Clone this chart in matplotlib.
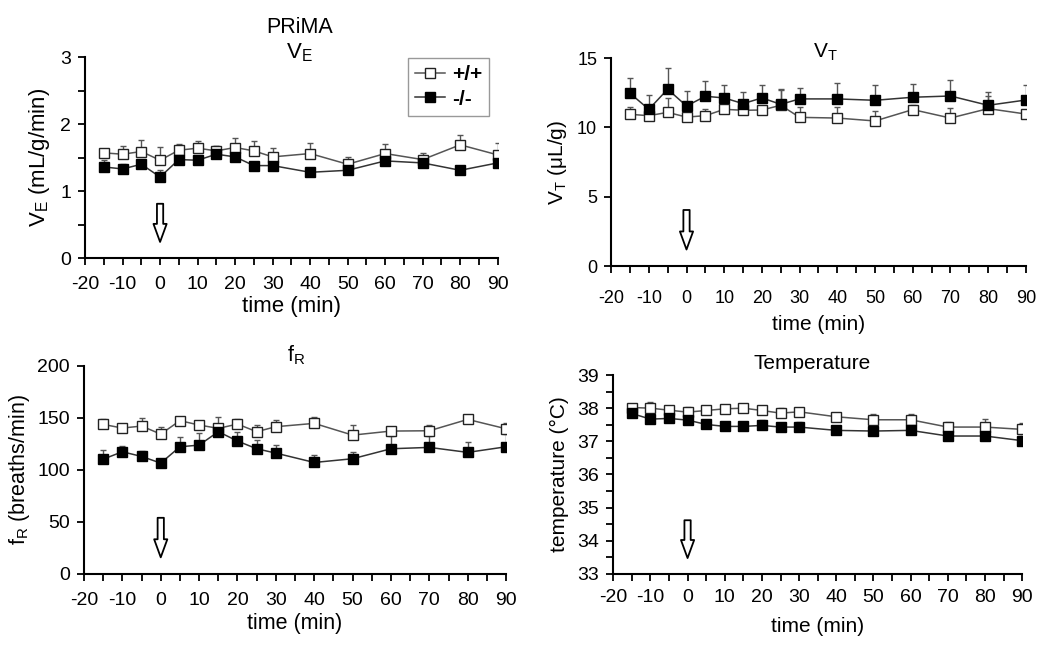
import matplotlib
matplotlib.use("Agg")
import matplotlib.pyplot as plt
import numpy as np

plt.rcParams['font.family'] = ['Liberation Sans', 'DejaVu Sans']
plt.rcParams['mathtext.fontset'] = 'custom'
plt.rcParams['mathtext.rm'] = 'Liberation Sans'
plt.rcParams['axes.unicode_minus'] = False

# ---------------- data ----------------
time = [-15, -10, -5, 0, 5, 10, 15, 20, 25, 30, 40, 50, 60, 70, 80, 90]

ve_wt = [1.57, 1.55, 1.59, 1.46, 1.61, 1.64, 1.60, 1.65, 1.60, 1.51, 1.56, 1.40, 1.56, 1.47, 1.69, 1.54]
ve_wt_err = [0.05, 0.13, 0.17, 0.20, 0.09, 0.11, 0.08, 0.14, 0.14, 0.13, 0.16, 0.11, 0.14, 0.10, 0.14, 0.17]
ve_ko = [1.36, 1.33, 1.40, 1.21, 1.47, 1.46, 1.55, 1.51, 1.38, 1.38, 1.28, 1.31, 1.45, 1.42, 1.31, 1.42]
ve_ko_err = [0.10, 0.07, 0.05, 0.11, 0.05, 0.05, 0.13, 0.06, 0.05, 0.05, 0.05, 0.05, 0.05, 0.05, 0.04, 0.05]

vt_wt = [10.95, 10.85, 11.09, 10.75, 10.85, 11.31, 11.24, 11.26, 11.60, 10.73, 10.68, 10.47, 11.29, 10.68, 11.36, 10.97]
vt_wt_err = [0.55, 0.30, 1.04, 0.40, 0.50, 0.30, 0.25, 0.25, 1.20, 0.77, 0.82, 0.70, 0.30, 0.75, 0.90, 0.30]
vt_ko = [12.47, 11.31, 12.76, 11.55, 12.25, 12.13, 11.72, 12.13, 11.67, 12.06, 12.06, 11.96, 12.18, 12.27, 11.60, 11.98]
vt_ko_err = [1.10, 1.00, 1.50, 1.06, 1.08, 0.96, 0.82, 0.92, 1.00, 0.77, 1.15, 1.13, 0.94, 1.14, 0.94, 1.07]

fr_wt = [143.8, 140.3, 142.2, 134.5, 147.4, 143.2, 140.0, 144.1, 136.8, 141.6, 144.8, 133.5, 137.4, 137.7, 148.6, 139.6]
fr_wt_err = [5.0, 3.0, 8.0, 7.0, 3.0, 3.0, 3.0, 5.0, 6.0, 6.7, 5.8, 9.3, 3.0, 5.5, 3.0, 5.8]
fr_ko = [110.4, 117.5, 113.0, 106.6, 122.3, 123.9, 136.8, 127.8, 120.4, 116.2, 107.2, 110.8, 120.4, 121.7, 116.9, 122.3]
fr_ko_err = [8.9, 5.8, 5.5, 3.0, 9.0, 11.2, 14.0, 9.0, 8.0, 8.0, 7.0, 6.0, 12.0, 10.6, 9.6, 12.0]

tp_wt = [38.02, 38.00, 37.94, 37.88, 37.93, 37.98, 38.00, 37.93, 37.85, 37.89, 37.74, 37.65, 37.65, 37.43, 37.43, 37.36]
tp_wt_err = [0.06, 0.20, 0.05, 0.16, 0.05, 0.04, 0.14, 0.05, 0.14, 0.10, 0.05, 0.17, 0.17, 0.16, 0.23, 0.19]
tp_ko = [37.84, 37.67, 37.69, 37.64, 37.51, 37.45, 37.45, 37.48, 37.43, 37.43, 37.33, 37.31, 37.33, 37.16, 37.16, 37.02]
tp_ko_err = [0.06, 0.05, 0.05, 0.06, 0.05, 0.05, 0.05, 0.16, 0.05, 0.16, 0.10, 0.15, 0.13, 0.05, 0.05, 0.20]

xticks = [-20, -10, 0, 10, 20, 30, 40, 50, 60, 70, 80, 90]
series_labels = ['+/+', '-/-']

LINE_C = '#555555'

fig = plt.figure(figsize=(10.5, 6.46), dpi=100)


def panel(rect, wt, wt_err, ko, ko_err, ylim, yticks, yminor, tfs, lfs, ylabel, title,
          title_xy, xpad, xlabelpad, ylabelpad):
    ax = fig.add_axes(rect)
    ax.errorbar(time, wt, yerr=[np.zeros(len(wt)), wt_err], fmt='none', ecolor=LINE_C,
                elinewidth=1, capsize=2.5, capthick=1, zorder=2)
    ax.errorbar(time, ko, yerr=[np.zeros(len(ko)), ko_err], fmt='none', ecolor=LINE_C,
                elinewidth=1, capsize=2.5, capthick=1, zorder=2)
    l1, = ax.plot(time, wt, '-', color=LINE_C, lw=1.1, marker='s', ms=7.5,
                  mfc='white', mec='#222222', mew=1.0, zorder=3, label=series_labels[0])
    l2, = ax.plot(time, ko, '-', color='#333333', lw=1.1, marker='s', ms=7.5,
                  mfc='black', mec='black', zorder=4, label=series_labels[1])
    ax.set_xlim(-20, 90)
    ax.set_ylim(*ylim)
    ax.set_xticks(xticks)
    ax.set_xticks(np.arange(-20, 91, 5), minor=True)
    ax.set_yticks(yticks)
    ax.set_yticklabels([f'{v:g}' for v in yticks])
    if yminor is not None:
        ax.set_yticks(yminor, minor=True)
    for s in ['top', 'right']:
        ax.spines[s].set_visible(False)
    for s in ['left', 'bottom']:
        ax.spines[s].set_linewidth(1.5)
    ax.tick_params(which='both', direction='out', width=1.3, length=5, labelsize=tfs)
    ax.tick_params(axis='x', which='both', pad=xpad)
    ax.tick_params(axis='y', which='both', pad=5)
    ax.set_xlabel('time (min)', fontsize=lfs, labelpad=xlabelpad)
    ax.set_ylabel(ylabel, fontsize=lfs, labelpad=ylabelpad)
    ax.text(title_xy[0], title_xy[1], title, transform=ax.transAxes, ha='center',
            va='center', fontsize=lfs)
    ax.annotate('', xy=(0, 0.08), xytext=(0, 0.27), xycoords=('data', 'axes fraction'),
                textcoords=('data', 'axes fraction'),
                arrowprops=dict(facecolor='white', edgecolor='black', lw=1.3,
                                width=4.5, headwidth=9.5, headlength=13, shrink=0))
    return ax, l1, l2


ax1, l1, l2 = panel([0.081, 0.6006, 0.393, 0.311], ve_wt, ve_wt_err, ve_ko, ve_ko_err,
                    (0, 3), [0, 1, 2, 3], np.arange(0, 3.01, 0.5), 14, 16,
                    r'V$_\mathregular{E}$ (mL/g/min)', r'V$_\mathregular{E}$', (0.52, 1.02),
                    8, 2, 6)
ax1.text(0.52, 1.149, 'PRiMA', transform=ax1.transAxes, ha='center', va='center', fontsize=15.5)
leg = ax1.legend(handles=[l1, l2], loc='upper right', bbox_to_anchor=(0.98, 0.995),
                 fancybox=False, edgecolor='#999999', framealpha=1, handlelength=1.4,
                 handletextpad=0.35, borderpad=0.35, labelspacing=0.25, borderaxespad=0,
                 prop={'size': 15, 'weight': 'bold'})

panel([0.582, 0.588, 0.395, 0.322], vt_wt, vt_wt_err, vt_ko, vt_ko_err,
      (0, 15), [0, 5, 10, 15], None, 13, 15,
      r'V$_\mathregular{T}$ ($\mathregular{\mu}$L/g)', r'V$_\mathregular{T}$', (0.516, 1.029),
      12, 6, 6)

panel([0.080, 0.1115, 0.402, 0.322], fr_wt, fr_wt_err, fr_ko, fr_ko_err,
      (0, 200), [0, 50, 100, 150, 200], None, 14, 15.5,
      r'f$_\mathregular{R}$ (breaths/min)', r'f$_\mathregular{R}$', (0.502, 1.053),
      8, 3, 4)

panel([0.584, 0.1115, 0.3895, 0.308], tp_wt, tp_wt_err, tp_ko, tp_ko_err,
      (33, 39), [33, 34, 35, 36, 37, 38, 39], np.arange(33, 39.01, 0.5), 14, 15,
      'temperature (°C)', 'Temperature', (0.487, 1.06),
      6, 8, 6)

fig.savefig('out.png', dpi=100)
